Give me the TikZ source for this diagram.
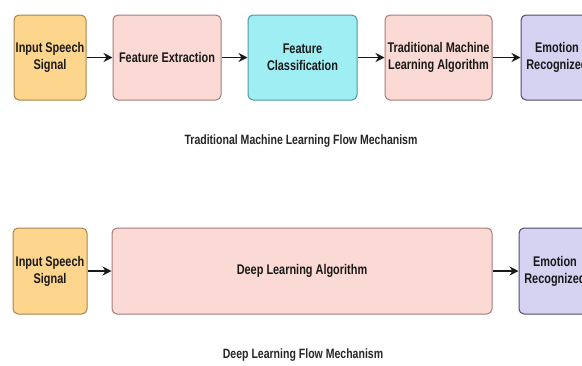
\documentclass[tikz,border=0pt]{standalone}
\usepackage{fontspec}
\setmainfont{Liberation Sans}[FakeStretch=0.78]
\usetikzlibrary{arrows.meta}

\definecolor{inFill}{HTML}{FDD58C}
\definecolor{inDraw}{HTML}{A9844E}
\definecolor{pkFill}{HTML}{FBDAD5}
\definecolor{pkDraw}{HTML}{A87A74}
\definecolor{cyFill}{HTML}{9FEEF4}
\definecolor{cyDraw}{HTML}{4A9AA0}
\definecolor{lvFill}{HTML}{D5D2F2}
\definecolor{lvDraw}{HTML}{4E4B70}

\tikzset{
  blk/.style={draw, line width=1pt, rounded corners=5pt, inner sep=0pt,
    align=center, font=\bfseries\fontsize{14}{17}\selectfont, text=black!90},
  inbox/.style={blk, fill=inFill, draw=inDraw},
  pkbox/.style={blk, fill=pkFill, draw=pkDraw},
  cybox/.style={blk, fill=cyFill, draw=cyDraw},
  lvbox/.style={blk, fill=lvFill, draw=lvDraw},
  flow/.style={-{Stealth[length=9pt,width=9pt]}, line width=1.8pt, black!90},
  caption/.style={font=\bfseries\fontsize{13.5}{15}\selectfont, text=black!85}
}

\begin{document}
\begin{tikzpicture}[x=1pt,y=-1pt]
\useasboundingbox (0,0) rectangle (582,365);
\clip (0,0) rectangle (582,365);

% traditional pipeline
\node[inbox, minimum width=72pt, minimum height=85pt] (t1) at (50,57.5) {Input Speech\\Signal};
\node[pkbox, minimum width=108pt, minimum height=85pt] (t2) at (167,57.5) {Feature Extraction};
\node[cybox, minimum width=109pt, minimum height=85pt] (t3) at (302.5,57.5) {Feature\\Classification};
\node[pkbox, minimum width=107pt, minimum height=85pt] (t4) at (438.5,57.5) {Traditional Machine\\Learning Algorithm};
\node[lvbox, minimum width=72pt, minimum height=85pt] (t5) at (557,57.5) {Emotion\\Recognized};

\draw[flow] (t1) -- (t2);
\draw[flow] (t2) -- (t3);
\draw[flow] (t3) -- (t4);
\draw[flow] (t4) -- (t5);

\node[caption] (c1) at (301,141) {Traditional Machine Learning Flow Mechanism};

% deep learning pipeline
\node[inbox, minimum width=74pt, minimum height=86pt] (d1) at (50,271) {Input Speech\\Signal};
\node[pkbox, minimum width=380pt, minimum height=86pt] (d2) at (302,271) {Deep Learning Algorithm};
\node[lvbox, minimum width=72pt, minimum height=86pt] (d3) at (555,271) {Emotion\\Recognized};

\draw[flow] (d1) -- (d2);
\draw[flow] (d2) -- (d3);

\node[caption] (c2) at (303,355) {Deep Learning Flow Mechanism};
\end{tikzpicture}
\end{document}
